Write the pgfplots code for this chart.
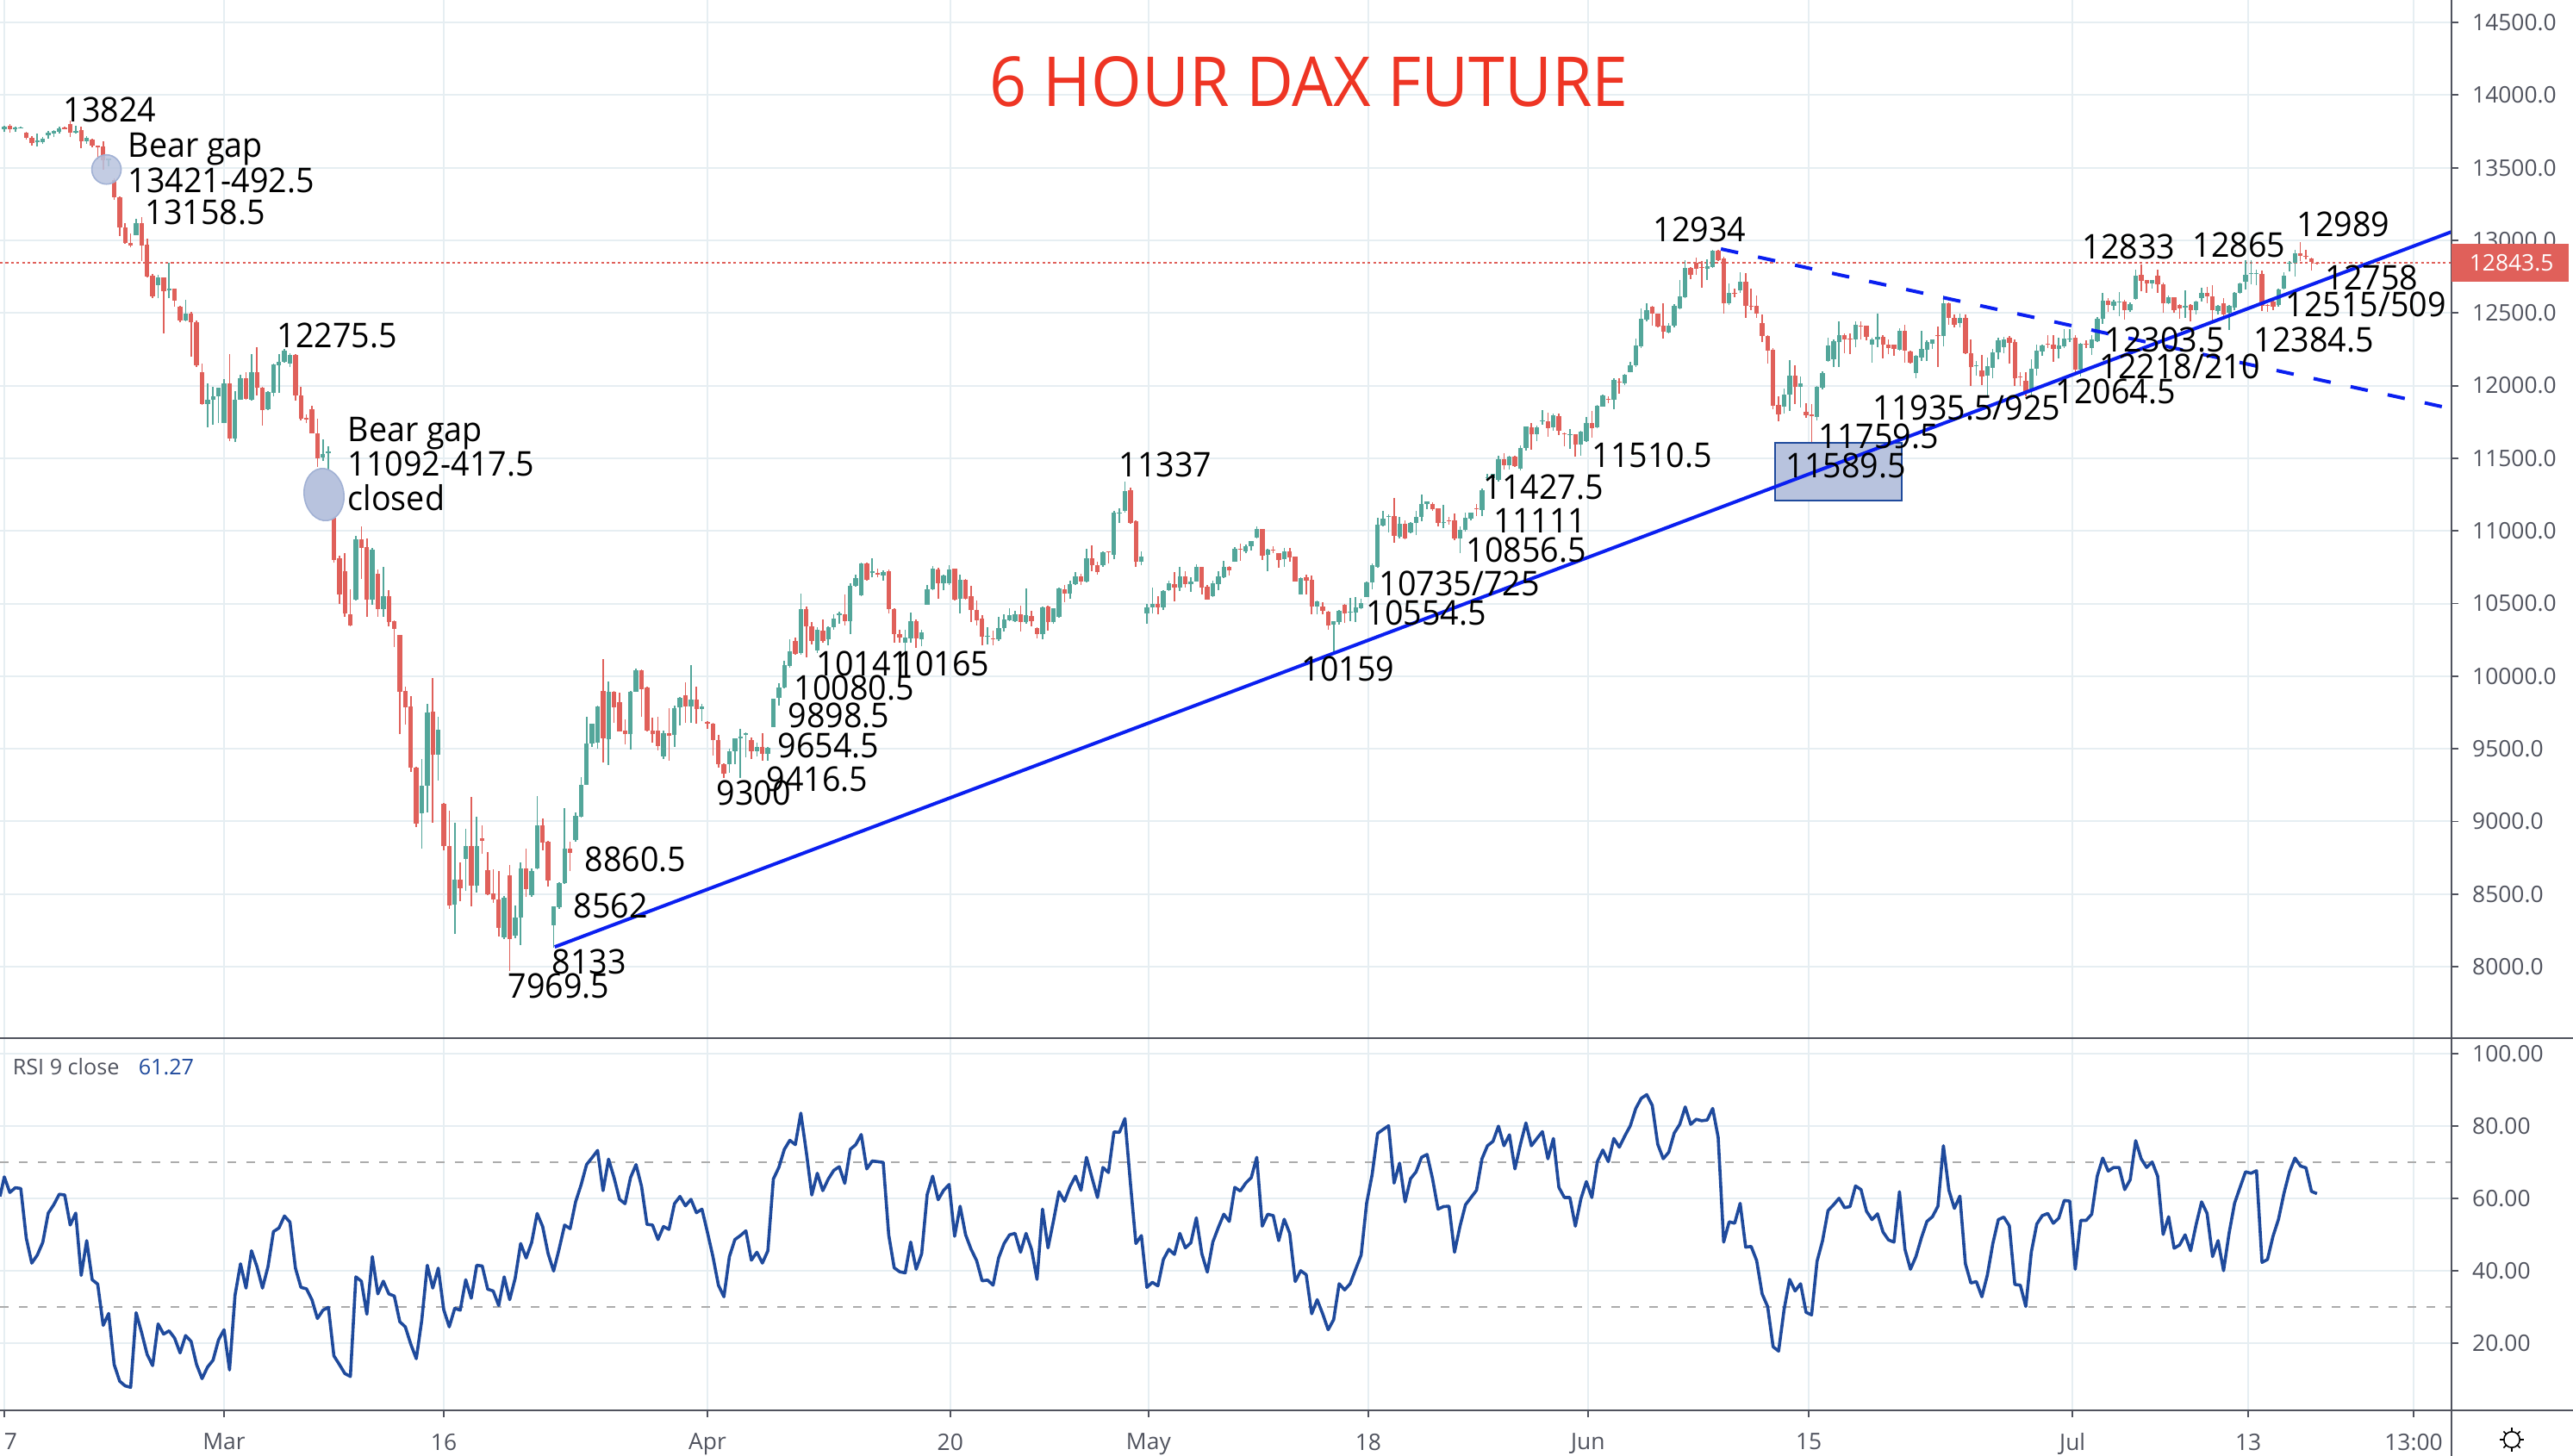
\documentclass[border=0pt]{standalone}
\usepackage{pgfplots}
\usepackage{pgfplotstable}
\usepackage{fontspec}
\setmainfont{Open Sans}
\pgfplotsset{compat=1.18}
\definecolor{upc}{HTML}{53A69A}
\definecolor{dnc}{HTML}{E0605A}
\definecolor{gridc}{HTML}{E6EEF2}
\definecolor{axc}{HTML}{50535E}
\definecolor{tline}{HTML}{0A1FF0}
\definecolor{rsic}{HTML}{1F4A9C}
\definecolor{shade}{HTML}{B8C3DE}
\definecolor{titlec}{HTML}{EE3524}
\pgfplotstableread{
i o h l c
0 13763 13790 13745 13783
1 13786 13802 13740 13763
2 13763 13780 13745 13776
3 13772 13780 13770 13776
4 13743 13750 13695 13703
5 13707 13715 13650 13668
6 13674 13733 13648 13688
7 13674 13712 13662 13697
8 13723 13755 13702 13743
9 13733 13762 13710 13753
10 13747 13782 13735 13772
11 13776 13785 13765 13766
12 13802 13824 13710 13739
13 13743 13790 13735 13753
14 13759 13780 13635 13684
15 13680 13720 13665 13703
16 13693 13700 13640 13650
17 13654 13655 13555 13640
18 13644 13685 13487 13549
19 13549 13562 13510 13561
20 13417 13425 13280 13298
21 13298 13300 13030 13091
22 13091 13120 12975 12982
23 12982 13050 12955 12962
24 13035 13150 13035 13120
25 13120 13158 12860 12962
26 12968 13010 12745 12751
27 12755 12770 12600 12617
28 12692 12760 12600 12745
29 12745 12745 12360 12652
30 12656 12845 12600 12666
31 12666 12670 12545 12587
32 12541 12550 12435 12449
33 12449 12590 12445 12494
34 12498 12510 12200 12439
35 12439 12450 12130 12138
36 12093 12152 11870 11876
37 11876 12015 11715 11905
38 11905 11990 11730 11929
39 11929 11985 11745 11984
40 11743 12045 11743 12014
41 12014 12215 11620 11638
42 11638 11965 11610 11901
43 11901 12075 11900 12049
44 12049 12095 11900 11909
45 11905 12220 11895 12093
46 12093 12265 11930 11984
47 11984 11990 11725 11832
48 11836 11960 11830 11955
49 11949 12150 11925 12146
50 12142 12215 11950 12166
51 12162 12250 12160 12241
52 12152 12225 12130 12211
53 12211 12215 11895 11935
54 11935 11990 11760 11771
55 11777 11800 11740 11767
56 11836 11860 11670 11674
57 11674 11770 11440 11500
58 11506 11630 11480 11530
59 11535 11585 11415 11545
60 11092 11100 10780 10800
61 10810 10830 10500 10560
62 10720 10846 10410 10430
63 10426 10600 10345 10347
64 10528 10965 10520 10941
65 10941 11030 10670 10880
66 10886 10945 10410 10524
67 10524 10885 10490 10873
68 10705 10735 10410 10460
69 10460 10755 10410 10551
70 10551 10595 10340 10374
71 10381 10385 10200 10324
72 10283 10285 9600 9893
73 9898 9925 9665 9785
74 9791 9865 9340 9368
75 9372 9375 8960 8987
76 9055 9430 8810 9247
77 9247 9810 9060 9751
78 9753 9990 8990 9458
79 9458 9720 9280 9633
80 9123 9125 8800 8828
81 8833 9075 8400 8420
82 8425 8990 8225 8601
83 8601 8720 8450 8540
84 8742 8950 8520 8833
85 8833 9170 8415 8560
86 8556 9035 8510 8833
87 8885 8970 8780 8867
88 8665 8790 8490 8499
89 8504 8670 8440 8465
90 8465 8660 8210 8266
91 8204 8485 8190 8477
92 8631 8700 7969.5 8189
93 8211 8420 8195 8341
94 8336 8720 8150 8676
95 8676 8815 8480 8533
96 8494 8675 8480 8658
97 8676 9175 8670 8971
98 8971 9020 8800 8855
99 8862 8865 8550 8595
100 8284 8415 8133 8413
101 8409 8580 8400 8574
102 8574 9090 8570 8812
103 8812 8860 8660 8783
104 8873 9060 8860 9037
105 9032 9305 9025 9252
106 9252 9720 9250 9535
107 9538 9675 9510 9671
108 9542 9800 9500 9791
109 9898 10115 9406 9572
110 9565 9965 9390 9893
111 9893 9900 9680 9785
112 9821 9885 9620 9621
113 9626 9700 9530 9599
114 9599 9900 9495 9893
115 9893 10050 9890 10041
116 10041 10045 9720 9912
117 9921 9925 9620 9626
118 9626 9715 9540 9599
119 9626 9720 9490 9519
120 9448 9625 9430 9610
121 9610 9780 9420 9587
122 9594 9800 9515 9780
123 9785 9858 9660 9848
124 9866 9960 9680 9791
125 9791 10075 9680 9837
126 9837 9925 9675 9775
127 9775 9810 9690 9791
128 9685 9690 9640 9674
129 9671 9680 9455 9558
130 9560 9595 9370 9395
131 9395 9400 9300 9327
132 9395 9500 9335 9481
133 9485 9570 9395 9569
134 9572 9640 9300 9581
135 9594 9615 9440 9610
136 9560 9580 9430 9481
137 9485 9540 9450 9513
138 9513 9610 9420 9467
139 9467 9515 9416.5 9508
140 9651 9845 9650 9844
141 9848 9950 9800 9921
142 9921 10105 9915 10075
143 10070 10255 10060 10170
144 10245 10265 10150 10154
145 10161 10570 10150 10460
146 10460 10480 10130 10342
147 10342 10375 10220 10245
148 10177 10335 10160 10320
149 10313 10390 10230 10245
150 10256 10345 10215 10335
151 10335 10425 10320 10397
152 10420 10445 10360 10433
153 10426 10560 10350 10381
154 10381 10640 10290 10623
155 10623 10700 10615 10676
156 10555 10780 10550 10778
157 10778 10780 10660 10664
158 10710 10810 10680 10720
159 10710 10740 10680 10700
160 10691 10730 10660 10714
161 10721 10735 10430 10460
162 10460 10470 10230 10290
163 10290 10320 10230 10263
164 10229 10320 10165 10263
165 10261 10435 10230 10381
166 10381 10390 10195 10261
167 10252 10320 10205 10302
168 10494 10630 10490 10600
169 10600 10760 10590 10743
170 10737 10745 10530 10642
171 10642 10700 10590 10692
172 10639 10767 10630 10734
173 10738 10740 10523 10529
174 10533 10696 10432 10666
175 10666 10670 10525 10533
176 10553 10620 10375 10454
177 10456 10520 10350 10387
178 10397 10420 10215 10270
179 10270 10335 10220 10275
180 10262 10315 10212 10254
181 10252 10410 10240 10331
182 10331 10425 10310 10393
183 10385 10465 10380 10420
184 10377 10452 10375 10428
185 10428 10487 10310 10371
186 10371 10605 10360 10420
187 10416 10450 10345 10377
188 10331 10335 10262 10291
189 10287 10480 10255 10476
190 10478 10485 10315 10371
191 10371 10470 10360 10466
192 10406 10608 10400 10603
193 10599 10630 10510 10567
194 10567 10660 10530 10635
195 10635 10718 10625 10688
196 10686 10705 10630 10654
197 10654 10875 10645 10809
198 10809 10900 10725 10766
199 10764 10790 10700 10718
200 10762 10860 10755 10851
201 10860 10860 10775 10855
202 10835 11140 10805 11125
203 11120 11155 11055 11125
204 11135 11337 11125 11273
205 11279 11300 11048 11055
206 11065 11070 10750 10787
207 10787 10860 10762 10821
208 10434 10500 10360 10476
209 10476 10610 10430 10500
210 10500 10550 10425 10474
211 10476 10595 10453 10585
212 10595 10660 10585 10639
213 10635 10715 10512 10607
214 10607 10750 10585 10688
215 10688 10725 10610 10635
216 10633 10680 10580 10654
217 10654 10770 10650 10750
218 10750 10752 10565 10607
219 10613 10630 10525 10529
220 10553 10655 10545 10639
221 10633 10725 10595 10688
222 10682 10795 10675 10750
223 10752 10760 10690 10726
224 10787 10890 10785 10877
225 10875 10915 10795 10870
226 10857 10905 10845 10896
227 10896 10930 10865 10928
228 10952 11030 10950 11012
229 11012 11015 10800 10827
230 10837 10875 10725 10871
231 10870 10895 10850 10865
232 10849 10850 10745 10797
233 10803 10880 10750 10857
234 10857 10885 10790 10817
235 10821 10825 10650 10652
236 10565 10680 10560 10678
237 10682 10700 10560 10658
238 10664 10690 10428 10480
239 10480 10520 10425 10512
240 10480 10510 10425 10450
241 10444 10450 10320 10347
242 10355 10380 10159 10377
243 10371 10455 10355 10452
244 10490 10495 10365 10430
245 10440 10540 10380 10445
246 10440 10545 10375 10476
247 10470 10535 10460 10506
248 10545 10654 10543 10648
249 10644 10775 10600 10763
250 10753 11090 10745 11040
251 11034 11140 11030 11085
252 11100 11115 10990 11105
253 11105 11225 10920 10966
254 10960 11095 10950 11050
255 11046 11075 10940 10947
256 10990 11063 10985 11057
257 11055 11135 10970 11099
258 11099 11250 11065 11188
259 11188 11205 11150 11204
260 11184 11195 11140 11149
261 11153 11155 11030 11056
262 11056 11180 11020 11060
263 11075 11095 11045 11070
264 11075 11120 10935 10945
265 10947 11030 10850 11010
266 11006 11125 10995 11089
267 11085 11125 11070 11123
268 11155 11185 11105 11150
269 11145 11290 11105 11283
270 11365 11390 11345 11370
271 11362 11395 11350 11390
272 11353 11520 11340 11493
273 11491 11535 11420 11452
274 11452 11520 11425 11511
275 11511 11520 11440 11446
276 11426 11590 11415 11570
277 11568 11720 11555 11717
278 11713 11740 11560 11663
279 11663 11725 11620 11713
280 11755 11830 11730 11760
281 11753 11815 11650 11709
282 11713 11805 11690 11796
283 11792 11805 11660 11687
284 11670 11680 11585 11665
285 11661 11700 11565 11665
286 11663 11665 11510.5 11594
287 11594 11690 11520 11683
288 11618 11785 11610 11743
289 11743 11825 11640 11709
290 11713 11870 11705 11861
291 11857 11940 11855 11931
292 11910 11925 11880 11905
293 11901 12050 11840 12040
294 12030 12050 11945 12025
295 12016 12080 12005 12075
296 12093 12165 12090 12139
297 12139 12325 12130 12277
298 12271 12530 12260 12459
299 12455 12565 12440 12518
300 12546 12550 12415 12495
301 12493 12495 12400 12406
302 12410 12565 12325 12370
303 12366 12430 12360 12410
304 12414 12560 12400 12548
305 12534 12730 12525 12612
306 12608 12865 12600 12810
307 12810 12815 12735 12762
308 12845 12880 12760 12806
309 12814 12860 12675 12810
310 12806 12870 12730 12825
311 12816 12934 12810 12930
312 12930 12934 12860 12865
313 12875 12890 12495 12568
314 12568 12705 12555 12637
315 12636 12670 12610 12630
316 12657 12780 12640 12713
317 12713 12775 12467 12548
318 12552 12670 12520 12548
319 12552 12620 12465 12495
320 12433 12490 12300 12344
321 12344 12345 12150 12241
322 12245 12260 11840 11861
323 11865 11925 11755 11802
324 11855 11980 11810 11940
325 11940 12175 11825 12067
326 12067 12140 11875 11990
327 11990 12060 11850 12014
328 11822 11880 11780 11796
329 11800 11875 11589.5 11790
330 11786 11995 11760 11990
331 11984 12100 11975 12087
332 12172 12330 12165 12275
333 12182 12320 12127 12307
334 12301 12440 12130 12346
335 12350 12360 12225 12315
336 12321 12360 12220 12316
337 12315 12440 12265 12416
338 12410 12440 12315 12405
339 12410 12415 12310 12336
340 12281 12330 12157 12317
341 12315 12495 12265 12334
342 12334 12345 12190 12281
343 12285 12320 12215 12257
344 12281 12285 12205 12251
345 12247 12395 12240 12376
346 12376 12416 12160 12241
347 12237 12240 12150 12156
348 12087 12210 12050 12206
349 12192 12375 12170 12251
350 12247 12310 12170 12301
351 12291 12320 12250 12317
352 12350 12405 12130 12345
353 12340 12620 12270 12568
354 12568 12575 12420 12469
355 12469 12490 12400 12420
356 12430 12495 12400 12465
357 12465 12490 12220 12226
358 12226 12315 12000 12126
359 12138 12170 12070 12142
360 12107 12210 12005 12063
361 12067 12195 11925 12133
362 12123 12250 12050 12231
363 12231 12330 12180 12311
364 12267 12335 12225 12317
365 12330 12340 12150 12295
366 12300 12320 12000 12053
367 12065 12095 11995 12060
368 12034 12095 11925 11964
369 11964 12180 11935 12119
370 12119 12285 12070 12241
371 12237 12285 12205 12277
372 12289 12345 12260 12284
373 12281 12345 12165 12251
374 12251 12330 12190 12277
375 12269 12390 12260 12323
376 12320 12390 12300 12325
377 12329 12345 12095 12110
378 12110 12295 12065 12289
379 12290 12310 12260 12285
380 12259 12345 12210 12315
381 12309 12472 12300 12462
382 12458 12640 12425 12587
383 12583 12600 12505 12553
384 12547 12590 12520 12577
385 12577 12645 12480 12581
386 12577 12590 12452 12517
387 12521 12575 12505 12563
388 12597 12800 12590 12759
389 12765 12833 12650 12720
390 12726 12730 12640 12706
391 12706 12730 12670 12726
392 12759 12800 12640 12700
393 12700 12710 12500 12567
394 12567 12620 12560 12607
395 12607 12610 12500 12521
396 12553 12560 12460 12533
397 12540 12655 12465 12548
398 12553 12560 12440 12521
399 12521 12585 12490 12577
400 12601 12675 12580 12640
401 12640 12680 12570 12616
402 12616 12690 12445 12517
403 12511 12555 12490 12547
404 12567 12605 12475 12487
405 12501 12555 12384.5 12547
406 12537 12645 12520 12636
407 12636 12710 12630 12702
408 12716 12865 12660 12765
409 12768 12865 12700 12772
410 12770 12800 12690 12775
411 12771 12790 12515 12547
412 12557 12560 12509 12547
413 12577 12600 12520 12543
414 12553 12670 12545 12662
415 12666 12780 12660 12755
416 12840 12855 12785 12845
417 12843 12935 12750 12914
418 12914 12989 12855 12894
419 12891 12935 12870 12885
420 12875 12880 12790 12851
421 12845 12850 12835 12843.5
}\candles
\newcommand{\lbl}[3]{\node[anchor=base west,inner sep=0pt,text=black] at ({#1*0.25pt},{(1690-#2)*0.25pt}) {\scalebox{.98}[1.03]{\fontsize{9.6}{11}\selectfont #3}};}
\pgfplotsset{
  upOnly/.style={x filter/.expression={\thisrow{c}>=\thisrow{o} ? x : nan}},
  dnOnly/.style={x filter/.expression={\thisrow{c}<\thisrow{o} ? x : nan}},
  wicks/.style={forget plot,draw=none,mark=none,error bars/.cd,y dir=plus,y explicit,error mark=none,error bar style={draw=#1,solid,line width=.38pt}},
  bodies/.style={forget plot,draw=none,mark=none,error bars/.cd,y dir=plus,y explicit,error mark=none,error bar style={draw=#1,solid,line width=1.35pt}},
  chartaxis/.style={
    scale only axis,width=711.25pt,
    xmin=-0.784,xmax=445.5,
    enlargelimits=false,
    axis line style={draw=none},
    grid=major,
    grid style={gridc,line width=.5pt},
    xtick={0,40,80,128,172.2,208.3,248.3,288.3,328.5,376.5,408.5,438.6},
    tick style={axc,line width=.45pt},
    major tick length=2pt,tick align=outside,
    ytick pos=right,xtick pos=lower,
    yticklabel pos=right,
    scaled y ticks=false,scaled x ticks=false,
    tick label style={font=\fontsize{6.6}{8}\selectfont,text=axc},
    /pgf/number format/assume math mode=true,
    /pgf/number format/fixed,/pgf/number format/fixed zerofill,
    /pgf/number format/1000 sep={},
    y tick label style={xshift=0.5pt},
    clip=true},
}
\begin{document}
\begin{tikzpicture}
\path[use as bounding box] (0,0) rectangle ({2986*0.25pt},{1690*0.25pt});
\begin{axis}[chartaxis,at={(0pt,121.25pt)},anchor=south west,height=301.25pt,
  ymin=7508,ymax=14655,
  ytick={8000,8500,9000,9500,10000,10500,11000,11500,12000,12500,13000,13500,14000,14500},
  /pgf/number format/precision=1,
  xticklabels={},xtick style={draw=none}]
\addplot[dnc,line width=.5pt,dash pattern=on .8pt off .8pt,forget plot] coordinates {(-0.784,12843.5)(445.5,12843.5)};
\addplot[upOnly,wicks={upc}] table[x=i,y=l,y error plus expr=\thisrow{h}-\thisrow{l}] {\candles};
\addplot[dnOnly,wicks={dnc}] table[x=i,y=l,y error plus expr=\thisrow{h}-\thisrow{l}] {\candles};
\addplot[upOnly,bodies={upc}] table[x=i,y=o,y error plus expr=\thisrow{c}-\thisrow{o}] {\candles};
\addplot[dnOnly,bodies={dnc}] table[x=i,y=c,y error plus expr=\thisrow{o}-\thisrow{c}] {\candles};
\draw[fill=shade,draw=rsic,line width=.5pt] (axis cs:322.4,11606) rectangle (axis cs:345.4,11209);
\draw[fill=shade,draw=shade!85!rsic,line width=.4pt,fill opacity=.85] (axis cs:18.6,13488) circle [x radius=4.25pt,y radius=4.25pt];
\draw[fill=shade,draw=shade!85!rsic,line width=.4pt] (axis cs:58.2,11250) circle [x radius=5.75pt,y radius=7.6pt,rotate=8];
\addplot[tline,line width=1pt,forget plot] coordinates {(100.2,8136)(445.5,13059)};
\addplot[tline,line width=1pt,dash pattern=on 5.1pt off 5.9pt,forget plot] coordinates {(312.5,12941)(443.8,11855)};
\end{axis}
\begin{axis}[chartaxis,at={(0pt,13.25pt)},anchor=south west,height=108pt,
  ymin=1.45,ymax=104.2,
  ytick={20,40,60,80,100},
  /pgf/number format/precision=2,
  xticklabels={\hphantom{1}7,Mar,16,Apr,20,May,18,Jun,15,Jul,13,13:00},
  x tick label style={yshift=-1.2pt}]
\addplot[gray!65,line width=.45pt,dash pattern=on 2.5pt off 3pt,forget plot] coordinates {(-0.784,70)(445.5,70)};
\addplot[gray!65,line width=.45pt,dash pattern=on 2.5pt off 3pt,forget plot] coordinates {(-0.784,30)(445.5,30)};
\addplot[rsic,line width=.9pt,forget plot,line join=round] coordinates {
(-0.78,60.5)(0,65.9)(1,61.6)(2,62.9)(3,62.7)(4,49.0)(5,42.1)(6,44.3)(7,47.8)(8,55.9)(9,58.2)(10,61.1)(11,60.9)(12,52.6)(13,55.9)(14,38.7)(15,48.3)(16,37.5)(17,36.3)(18,24.9)(19,28.2)(20,14.1)(21,9.5)(22,8.2)(23,7.8)(24,28.4)(25,22.9)(26,16.9)(27,13.8)(28,25.3)(29,22.5)(30,23.4)(31,21.4)(32,17.3)(33,22.1)(34,20.5)(35,14.1)(36,10.2)(37,13.4)(38,15.3)(39,20.9)(40,23.7)(41,12.6)(42,33.2)(43,41.9)(44,35.2)(45,45.5)(46,41.1)(47,35.2)(48,41.1)(49,50.8)(50,51.8)(51,55.1)(52,53.4)(53,40.7)(54,35.4)(55,35.0)(56,32.0)(57,26.8)(58,29.1)(59,29.9)(60,16.5)(61,14.1)(62,11.6)(63,10.8)(64,38.3)(65,37.1)(66,28.0)(67,43.9)(68,33.6)(69,37.1)(70,33.6)(71,33.0)(72,25.9)(73,24.5)(74,19.7)(75,15.7)(76,26.4)(77,41.5)(78,35.2)(79,40.7)(80,29.2)(81,24.5)(82,29.6)(83,29.1)(84,37.5)(85,32.4)(86,41.5)(87,41.3)(88,34.9)(89,34.4)(90,30.4)(91,38.3)(92,32.0)(93,37.9)(94,47.5)(95,43.5)(96,47.8)(97,55.8)(98,52.2)(99,44.7)(100,39.9)(101,46.0)(102,52.6)(103,51.6)(104,59.0)(105,63.7)(106,69.3)(107,71.2)(108,73.2)(109,62.1)(110,70.8)(111,65.7)(112,59.7)(113,58.5)(114,65.7)(115,69.3)(116,63.3)(117,52.8)(118,52.6)(119,48.6)(120,52.2)(121,51.4)(122,58.5)(123,60.5)(124,57.9)(125,59.7)(126,56.0)(127,57.0)(128,50.6)(129,43.9)(130,36.0)(131,32.8)(132,43.9)(133,48.6)(134,49.7)(135,51.0)(136,42.9)(137,45.1)(138,42.1)(139,45.5)(140,65.3)(141,68.5)(142,73.5)(143,76.0)(144,74.8)(145,83.5)(146,72.8)(147,60.9)(148,66.9)(149,62.1)(150,65.3)(151,67.7)(152,68.7)(153,64.1)(154,73.5)(155,74.8)(156,77.6)
(157,68.1)(158,70.3)(159,70.1)(160,69.9)(161,49.9)(162,40.8)(163,39.7)(164,39.4)(165,47.9)(166,40.4)(167,44.7)(168,61.0)(169,66.1)(170,59.6)(171,62.2)(172,63.8)(173,49.5)(174,57.8)(175,49.9)(176,45.9)(177,42.8)(178,37.2)(179,37.4)(180,36.0)(181,43.5)(182,47.5)(183,49.9)(184,50.3)(185,45.1)(186,50.3)(187,45.9)(188,37.6)(189,57.0)(190,46.3)(191,53.8)(192,61.8)(193,59.2)(194,63.2)(195,66.1)(196,62.2)(197,71.3)(198,65.7)(199,60.2)(200,68.5)(201,67.1)(202,78.3)(203,78.2)(204,82.0)(205,64.2)(206,47.5)(207,49.7)(208,35.4)(209,36.8)(210,35.8)(211,43.1)(212,45.9)(213,44.5)(214,50.3)(215,46.3)(216,47.7)(217,54.6)(218,44.7)(219,39.6)(220,47.9)(221,51.9)(222,55.6)(223,53.6)(224,63.0)(225,62.0)(226,64.2)(227,65.7)(228,71.3)(229,52.3)(230,55.6)(231,55.2)(232,48.3)(233,54.2)(234,50.3)(235,37.0)(236,40.0)(237,38.9)(238,28.1)(239,32.0)(240,28.1)(241,23.7)(242,26.5)(243,36.4)(244,34.7)(245,36.4)(246,40.4)(247,44.3)(248,58.6)(249,66.5)(250,77.9)(251,79.0)(252,80.0)(253,64.2)(254,69.7)(255,59.0)(256,65.4)(257,67.3)(258,71.3)(259,72.1)(260,65.4)(261,57.0)(262,57.7)(263,57.8)(264,45.1)(265,52.3)(266,58.2)(267,60.2)(268,62.2)(269,70.9)(270,74.5)(271,75.7)(272,79.9)(273,74.5)(274,77.5)(275,68.1)(276,74.9)(277,80.8)(278,74.5)(279,76.5)(280,78.4)(281,70.9)(282,76.5)(283,63.0)(284,60.2)(285,60.2)(286,52.3)(287,59.8)(288,64.6)(289,60.2)(290,70.1)(291,73.3)(292,70.1)(293,76.5)
(294,74.1)(295,77.2)(296,80.0)(297,84.8)(298,87.6)(299,88.6)(300,85.6)(301,74.9)(302,70.9)(303,72.7)(304,78.0)(305,80.4)(306,85.2)(307,80.4)(308,81.8)(309,81.4)(310,81.6)(311,84.8)(312,76.8)(313,47.9)(314,53.5)(315,53.1)(316,58.6)(317,46.5)(318,46.7)(319,42.8)(320,33.6)(321,30.1)(322,19.0)(323,17.8)(324,29.3)(325,37.6)(326,34.4)(327,36.4)(328,28.5)(329,27.8)(330,42.6)(331,48.3)(332,56.6)(333,58.2)(334,60.0)(335,57.4)(336,57.7)(337,63.4)(338,62.4)(339,56.4)(340,54.1)(341,55.7)(342,50.7)(343,48.5)(344,47.9)(345,61.8)(346,45.9)(347,40.4)(348,43.9)(349,49.1)(350,53.6)(351,54.9)(352,57.8)(353,74.5)(354,62.2)(355,57.2)(356,60.6)(357,41.95)(358,36.6)(359,37.0)(360,32.8)(361,38.8)(362,47.5)(363,54.1)(364,54.8)(365,52.4)(366,36.2)(367,36.0)(368,30.1)(369,45.1)(370,52.9)(371,55.2)(372,55.8)(373,53.1)(374,54.5)(375,59.4)(376,59.2)(377,40.4)(378,53.9)(379,53.9)(380,55.6)(381,66.1)(382,71.1)(383,67.5)(384,68.5)(385,68.5)(386,62.4)(387,65.1)(388,75.9)(389,70.9)(390,68.5)(391,70.0)(392,66.1)(393,50.0)(394,54.9)(395,46.2)(396,47.1)(397,49.9)(398,45.5)(399,52.7)(400,59.0)(401,55.8)(402,43.9)(403,48.3)(404,40.0)(405,50.3)(406,58.6)(407,63.0)(408,67.3)(409,66.9)(410,67.6)(411,42.3)(412,43.1)(413,49.5)(414,54.2)(415,61.4)(416,67.3)(417,71.1)(418,68.9)(419,68.4)(420,61.9)(421,61.27)};
\end{axis}
% frame lines
\draw[axc,line width=.5pt] (0,{(1690-1205)*0.25pt}) -- ({2986*0.25pt},{(1690-1205)*0.25pt});
\draw[axc,line width=.5pt] (0,{(1690-1637)*0.25pt}) -- ({2986*0.25pt},{(1690-1637)*0.25pt});
\draw[axc,line width=.5pt] ({2845*0.25pt},0) -- ({2845*0.25pt},{1690*0.25pt});
% title
\node[anchor=base,inner sep=0pt,text=titlec] at ({1519*0.25pt},{(1690-124)*0.25pt}) {\scalebox{.943}[1]{\fontsize{20}{24}\selectfont 6 HOUR DAX FUTURE}};
% annotations
\lbl{73}{142}{13824}
\lbl{148}{183}{Bear gap}
\lbl{148}{224}{13421-492.5}
\lbl{168}{261}{13158.5}
\lbl{321}{404}{12275.5}
\lbl{403}{513}{Bear gap}
\lbl{403}{553}{11092-417.5}
\lbl{403}{593}{closed}
\lbl{678}{1012}{8860.5}
\lbl{665}{1065.5}{8562}
\lbl{640}{1131}{8133}
\lbl{589}{1159}{7969.5}
\lbl{831}{935}{9300}
\lbl{889}{919}{9416.5}
\lbl{902}{880}{9654.5}
\lbl{914}{845}{9898.5}
\lbl{921}{813}{10080.5}
\lbl{947}{785}{10141}
\lbl{1040}{785}{10165}
\lbl{1298}{554}{11337}
\lbl{1510}{791}{10159}
\lbl{1585}{726}{10554.5}
\lbl{1600}{692}{10735/725}
\lbl{1701}{653}{10856.5}
\lbl{1733}{619}{11111}
\lbl{1721}{580}{11427.5}
\lbl{1847}{543}{11510.5}
\lbl{1918}{281}{12934}
\lbl{2110}{521}{11759.5}
\lbl{2072}{555}{11589.5}
\lbl{2173}{488}{11935.5/925}
\lbl{2416}{301}{12833}
\lbl{2544}{299}{12865}
\lbl{2665}{275}{12989}
\lbl{2698}{337}{12758}
\lbl{2652}{368}{12515/509}
\lbl{2615}{409}{12384.5}
\lbl{2442}{409}{12303.5}
\lbl{2436}{440}{12218/210}
\lbl{2385}{469}{12064.5}
% price box
\fill[dnc] ({2845*0.25pt},{(1690-327)*0.25pt}) rectangle ({2981*0.25pt},{(1690-283)*0.25pt});
\node[anchor=west,inner sep=0pt,text=white] at ({2865*0.25pt},{(1690-305)*0.25pt}) {\fontsize{6.6}{8}\selectfont 12843.5};
% RSI legend
\node[anchor=base west,inner sep=0pt,text=axc] at ({14*0.25pt},{(1690-1248)*0.25pt}) {\fontsize{6.3}{8}\selectfont RSI 9 close};
\node[anchor=base west,inner sep=0pt,text=rsic] at ({160*0.25pt},{(1690-1248)*0.25pt}) {\fontsize{6.3}{8}\selectfont 61.27};
% gear
\draw[black,line width=.4pt] ({2915*0.25pt},{(1690-1671)*0.25pt}) circle (2.3pt);
\foreach \a in {0,45,...,315} \draw[black,line width=.4pt] ({2915*0.25pt},{(1690-1671)*0.25pt}) ++(\a:2.3pt) -- ++(\a:1.1pt);
\end{tikzpicture}
\end{document}
